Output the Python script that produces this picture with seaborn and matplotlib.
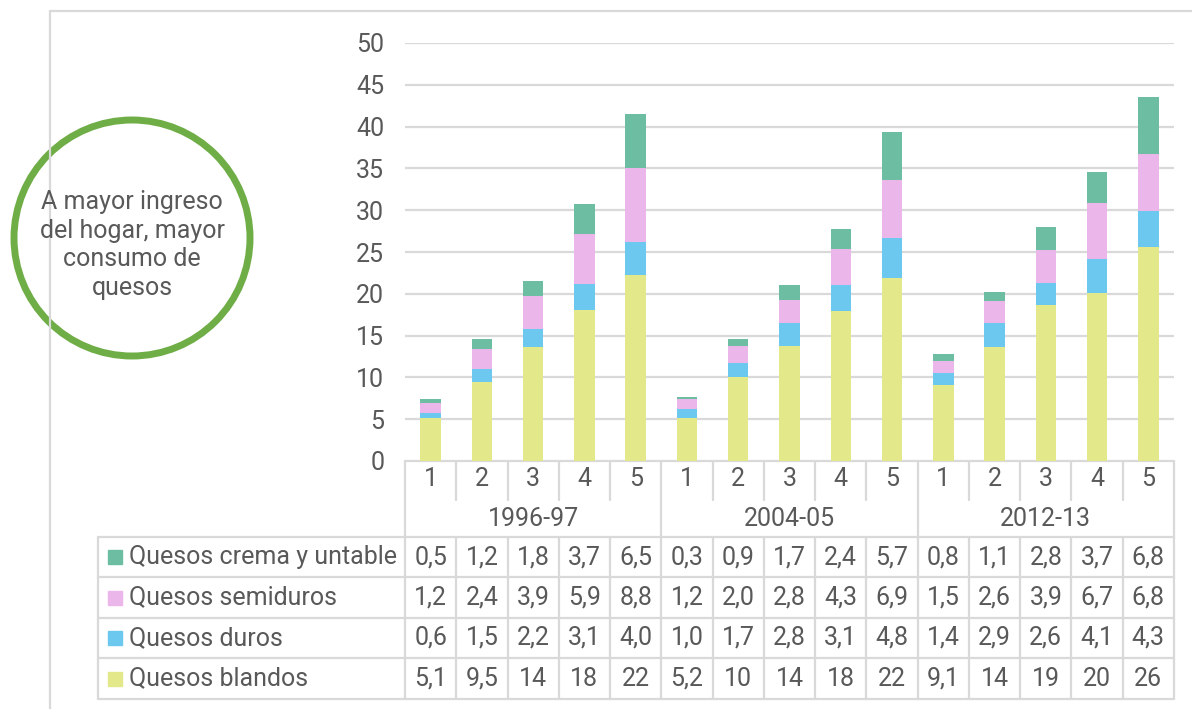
import matplotlib
matplotlib.use("Agg")
import matplotlib.pyplot as plt
import seaborn as sns
import pandas as pd
from matplotlib.patches import Circle, Rectangle

# data
periodos = ["1996-97", "2004-05", "2012-13"]
quintiles = ["1", "2", "3", "4", "5"]
series = ["Quesos crema y untable", "Quesos semiduros", "Quesos duros", "Quesos blandos"]
crema = [0.5, 1.2, 1.8, 3.7, 6.5, 0.3, 0.9, 1.7, 2.4, 5.7, 0.8, 1.1, 2.8, 3.7, 6.8]
semiduros = [1.2, 2.4, 3.9, 5.9, 8.8, 1.2, 2.0, 2.8, 4.3, 6.9, 1.5, 2.6, 3.9, 6.7, 6.8]
duros = [0.6, 1.5, 2.2, 3.1, 4.0, 1.0, 1.7, 2.8, 3.1, 4.8, 1.4, 2.9, 2.6, 4.1, 4.3]
blandos = [5.1, 9.5, 13.6, 18.1, 22.2, 5.2, 10.0, 13.7, 17.9, 21.9, 9.1, 13.6, 18.7, 20.1, 25.6]
blandos_txt = ["5,1", "9,5", "14", "18", "22", "5,2", "10", "14", "18", "22", "9,1", "14", "19", "20", "26"]
colores = ["#6DBDA2", "#EBB6EA", "#6CC8EE", "#E3E88A"]
nota = "A mayor ingreso\ndel hogar, mayor\nconsumo de\nquesos"

sns.set_theme(style="white")
plt.rcParams["font.family"] = ["Roboto", "DejaVu Sans"]
gris = "#595959"
linea = "#D9D9D9"
fs = 18

W, H = 1192, 709
fig = plt.figure(figsize=(W / 100, H / 100), dpi=100)

# pixel layout
x0, x1 = 405, 1174
y_top, y_zero = 43, 461
ax = fig.add_axes([x0 / W, 1 - y_zero / H, (x1 - x0) / W, (y_zero - y_top) / H])

etiquetas = [f"{p} {q}" for p in periodos for q in quintiles]
df = pd.DataFrame({"cat": etiquetas, "blandos": blandos, "duros": duros,
                   "semiduros": semiduros, "crema": crema})
df["c1"] = df["blandos"]
df["c2"] = df["c1"] + df["duros"]
df["c3"] = df["c2"] + df["semiduros"]
df["c4"] = df["c3"] + df["crema"]

# stacked bars: draw cumulative totals from the top layer down
for col, c in zip(["c4", "c3", "c2", "c1"], colores):
    sns.barplot(data=df, x="cat", y=col, color=c, width=0.4, saturation=1,
                linewidth=0, order=etiquetas, ax=ax, zorder=3)

ax.set_xlim(-0.5, len(etiquetas) - 0.5)
ax.set_ylim(0, 50)
ax.set_yticks(range(0, 51, 5))
ax.grid(axis="y", color=linea, linewidth=1.6, zorder=0)
ax.tick_params(axis="y", length=0, pad=15, labelsize=fs, labelcolor=gris)
ax.set_xticks([])
ax.set_xlabel("")
ax.set_ylabel("")
sns.despine(ax=ax, left=True, bottom=True)

# overlay in pixel coordinates for frame, circle and data table
ov = fig.add_axes([0, 0, 1, 1], zorder=-1)
ov.set_xlim(0, W)
ov.set_ylim(H, 0)
ov.axis("off")

lw = 1.6
ov.plot([50, 50], [11, H], color=linea, lw=lw)
ov.plot([50, W], [11, 11], color=linea, lw=lw)

ov.add_patch(Circle((132, 238), 118, fill=False, edgecolor="#6FAD46", lw=5))
ov.text(132, 245, nota, ha="center", va="center", fontsize=fs, color=gris,
        linespacing=1.25)

n = len(etiquetas)
cw = (x1 - x0) / n
tx0 = 98
rows = [537, 577, 618, 658, 699]
y_sub = 500

# header lines
ov.plot([x0, x1], [y_zero, y_zero], color=linea, lw=lw)
for i in range(n + 1):
    xb = x0 + i * cw
    y_end = rows[-1] if i % 5 == 0 else y_sub
    ov.plot([xb, xb], [y_zero, y_end], color=linea, lw=lw)
    if i % 5 != 0:
        ov.plot([xb, xb], [rows[0], rows[-1]], color=linea, lw=lw)
for r in rows:
    ov.plot([tx0, x1], [r, r], color=linea, lw=lw)
ov.plot([tx0, tx0], [rows[0], rows[-1]], color=linea, lw=lw)

for i in range(n):
    ov.text(x0 + (i + 0.5) * cw, 479, quintiles[i % 5], ha="center", va="center",
            fontsize=fs, color=gris)
for k, p in enumerate(periodos):
    ov.text(x0 + (k * 5 + 2.5) * cw, 519, p, ha="center", va="center",
            fontsize=fs, color=gris)

tabla = [[f"{v:.1f}".replace(".", ",") for v in crema],
         [f"{v:.1f}".replace(".", ",") for v in semiduros],
         [f"{v:.1f}".replace(".", ",") for v in duros],
         blandos_txt]
for r, (nombre, c, vals) in enumerate(zip(series, colores, tabla)):
    yc = (rows[r] + rows[r + 1]) / 2
    ov.add_patch(Rectangle((108, yc - 7), 14, 14, color=c))
    ov.text(129, yc, nombre, ha="left", va="center", fontsize=fs, color=gris)
    for i, v in enumerate(vals):
        ov.text(x0 + (i + 0.5) * cw, yc, v, ha="center", va="center",
                fontsize=fs, color=gris)

fig.savefig("out.png", dpi=100)
